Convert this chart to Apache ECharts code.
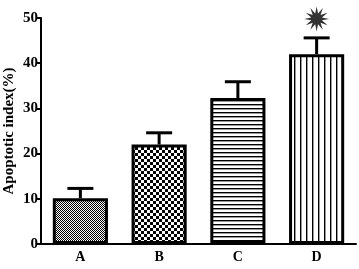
<!DOCTYPE html>
<html><head><meta charset="utf-8">
<script src="https://cdn.jsdelivr.net/npm/echarts@6/dist/echarts.min.js"></script>
<style>html,body{margin:0;padding:0;background:#fff}#c{width:359px;height:269px}</style>
</head><body><div id="c"></div>
<script>
var categories = ['A','B','C','D'];
var means = [10.1, 22, 32.3, 42];
var errors = [2.2, 2.6, 3.6, 3.6];
var yTicks = [0,10,20,30,40,50];
var sigIndex = [3];
var sigValue = 49.8;

function pat(w,h,draw){var c=document.createElement('canvas');c.width=w;c.height=h;var g=c.getContext('2d');g.fillStyle='#fff';g.fillRect(0,0,w,h);g.fillStyle='#000';draw(g);return {image:c,repeat:'repeat'};}
var patterns = [
  pat(2,2,function(g){g.fillRect(0,0,1,1);g.fillRect(1,1,1,1);}),
  pat(6,6,function(g){g.fillRect(0,0,3,3);g.fillRect(3,3,3,3);}),
  pat(4,4,function(g){g.fillRect(0,0,4,1.4);}),
  pat(6,6,function(g){g.fillRect(0,0,1.4,6);})
];

function burst(n){var p=[];for(var k=0;k<2*n;k++){var r=k%2===0?50:22;var a=Math.PI*k/n-Math.PI/2;p.push((50+r*Math.cos(a)).toFixed(1)+','+(50+r*Math.sin(a)).toFixed(1));}return 'path://M'+p.join(' L')+' Z';}
var star = burst(12);

var font = 'Liberation Serif';
var chart = echarts.init(document.getElementById('c'));
chart.setOption({
  animation:false,
  grid:{left:41,right:3,top:18,bottom:25,containLabel:false,outerBoundsMode:'none'},
  xAxis:{type:'category',data:categories,
    axisLine:{lineStyle:{color:'#000',width:2}},
    axisTick:{alignWithLabel:true,length:5,lineStyle:{color:'#000',width:2}},
    axisLabel:{color:'#000',fontFamily:font,fontWeight:'bold',fontSize:14,margin:6}},
  yAxis:{type:'value',min:0,max:50,interval:10,
    name:'Apoptotic index(%)',nameLocation:'middle',nameGap:24,nameMoveOverlap:false,
    nameTextStyle:{color:'#000',fontFamily:font,fontWeight:'bold',fontSize:15},
    axisLine:{show:true,lineStyle:{color:'#000',width:2}},
    axisTick:{show:true,length:5,lineStyle:{color:'#000',width:2}},
    splitLine:{show:false},
    axisLabel:{color:'#000',fontFamily:font,fontWeight:'bold',fontSize:15,margin:3,
      formatter:function(v){return yTicks.indexOf(v)>=0?String(v):'';}}},
  series:[
    {type:'bar',barWidth:'70%',
      data:means.map(function(v,i){return {value:v,itemStyle:{color:patterns[i],borderColor:'#000',borderWidth:3}};})},
    {type:'custom',z:5,
      renderItem:function(params,api){
        var i=api.value(0);var top=api.coord([i,api.value(2)]);var base=api.coord([i,api.value(1)]);
        var hw=13;
        return {type:'group',children:[
          {type:'line',shape:{x1:top[0],y1:top[1],x2:base[0],y2:base[1]},style:{stroke:'#000',lineWidth:3}},
          {type:'line',shape:{x1:top[0]-hw,y1:top[1],x2:top[0]+hw,y2:top[1]},style:{stroke:'#000',lineWidth:3}}
        ]};
      },
      data:means.map(function(v,i){return [i,v,v+errors[i]];})},
    {type:'scatter',symbol:star,symbolSize:25,itemStyle:{color:'#000'},
      data:sigIndex.map(function(i){return [i,sigValue];})}
  ]
});
</script></body></html>
